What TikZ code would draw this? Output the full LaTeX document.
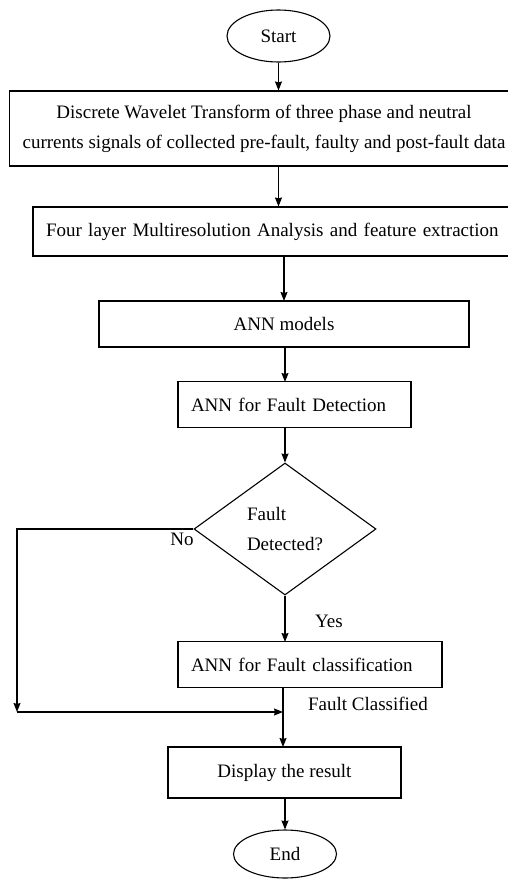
\documentclass[tikz,border=0pt]{standalone}
\usepackage{fontspec}
\setmainfont{Liberation Serif}
\usetikzlibrary{shapes.geometric,arrows.meta}

\tikzstyle{terminal} = [ellipse, minimum width=103pt, minimum height=52pt,
                        text centered, draw=black, line width=1.1pt]
\tikzstyle{block} = [rectangle, minimum height=46pt, inner xsep=13pt,
                     text centered, draw=black, line width=1.1pt]
\tikzstyle{decision} = [diamond, aspect=1.38, minimum width=182pt,
                        minimum height=132pt, inner sep=0pt, align=left,
                        draw=black, line width=1.1pt]
\tikzstyle{arrow} = [line width=1.1pt,->,>={Stealth[length=9pt,width=7pt,inset=1pt]}]

\begin{document}
\begin{tikzpicture}[x=1pt, y=-1pt, font=\fontsize{19}{30}\selectfont]
  \useasboundingbox (0,0) rectangle (508,879);
  %blocks
  \node (start) [terminal] at (278.5,36) {Start};
  \node (dwt) [block, minimum width=494pt, minimum height=75pt, align=center]
        at (264,128.5) {Discrete Wavelet Transform of three phase and neutral\\
        currents signals of collected pre-fault, faulty and post-fault data};
  \node (mra) [block, text width=456pt, minimum height=49pt, align=left]
        at (274,231.5)
        {Four layer Multiresolution Analysis and feature extraction};
  \node (models) [block, minimum width=370pt] at (284,324) {ANN models};
  \node (detect) [block, text width=207pt, align=left] at (294.5,404.5)
        {ANN for Fault Detection};
  \node (dec) [decision] at (285,529) {Fault\\Detected?};
  \node (classify) [block, text width=238pt, align=left] at (310,664.5)
        {ANN for Fault classification};
  \node (disp) [block, minimum width=233pt, minimum height=51pt] at (284.5,772.5)
        {Display the result};
  \node (stop) [terminal, minimum height=48pt] at (285,854) {End};
  %labels
  \node (no) at (182,539) {No};
  \node (yes) at (329,621) {Yes};
  \node (classified) at (368,704) {Fault Classified};
  %connections
  \draw [arrow] (start) -- (start |- dwt.north);
  \draw [arrow] (start |- dwt.south) -- (start |- mra.north);
  \draw [arrow] (284,256) -- (284,301);
  \draw [arrow] (models.south -| 285,0) -- (285,382);
  \draw [arrow] (285,427) -- (dec.north);
  \draw [arrow] (dec.south) -- (285,642);
  \draw [arrow] (283,687) -- (283,747);
  \draw [arrow] (disp.south -| 285,0) -- (stop.north);
  % no -> join
  \coordinate (noend) at (17,712);
  \coordinate (join) at (283,712);
  \draw [arrow] (dec.west) -| (noend);
  \draw [arrow] (noend) -- (join);
\end{tikzpicture}
\end{document}
